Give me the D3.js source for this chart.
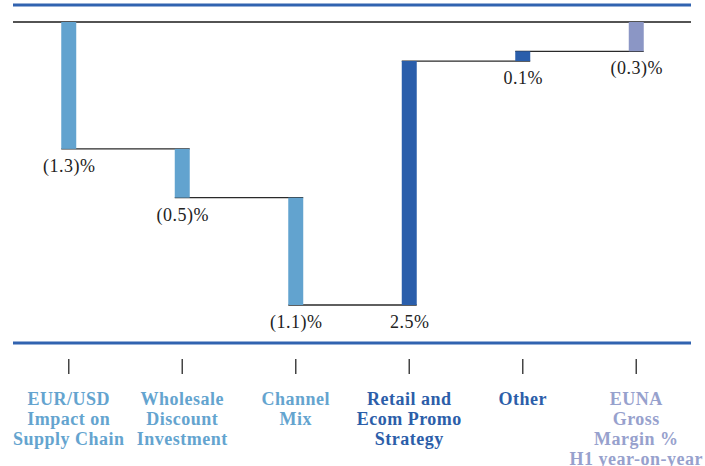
<!DOCTYPE html>
<html>
<head>
<meta charset="utf-8">
<script src="https://cdn.jsdelivr.net/npm/d3@7"></script>
<style>
  html, body { margin: 0; padding: 0; background: #fff; }
  svg { display: block; }
</style>
</head>
<body>
<svg id="chart" width="705" height="466"></svg>
<script>
// Gross margin bridge, H1 year-on-year (percentage points)
const categories = [
  ["EUR/USD", "Impact on", "Supply Chain"],
  ["Wholesale", "Discount", "Investment"],
  ["Channel", "Mix"],
  ["Retail and", "Ecom Promo", "Strategy"],
  ["Other"],
  ["EUNA", "Gross", "Margin %", "H1 year-on-year"]
];
const steps = [-1.3, -0.5, -1.1, 2.5, 0.1];   // bridge movements
const total = -0.3;                            // resulting change
const valueLabels = ["(1.3)%", "(0.5)%", "(1.1)%", "2.5%", "0.1%", "(0.3)%"];
const kinds = ["neg", "neg", "neg", "pos", "pos", "total"];

const barColor = { neg: "#62a3cf", pos: "#2a5eab", total: "#8b96c5" };
const textColor = { neg: "#64a4cf", pos: "#2c5ea9", total: "#97a1cd" };
const serif = "Liberation Serif";

// Build start/end of each bar
const bars = [];
let run = 0;
steps.forEach((v, i) => {
  bars.push({ i, start: run, end: run + v, kind: kinds[i], label: valueLabels[i] });
  run += v;
});
bars.push({ i: steps.length, start: 0, end: total, kind: kinds[steps.length], label: valueLabels[steps.length] });

const svg = d3.select("#chart");

const x = d3.scaleBand()
  .domain(d3.range(categories.length))
  .range([12, 693])
  .paddingInner(0.868)
  .paddingOuter(0.434);

const y = d3.scaleLinear()
  .domain([0, -2.9])
  .range([22, 305]);

const left = 13, right = 691;

// top rule
svg.append("line")
  .attr("x1", left).attr("x2", right)
  .attr("y1", 5).attr("y2", 5)
  .attr("stroke", "#3163b0").attr("stroke-width", 3);

// zero line
svg.append("line")
  .attr("x1", left).attr("x2", right)
  .attr("y1", y(0)).attr("y2", y(0))
  .attr("stroke", "#1a1a1a").attr("stroke-width", 1.5);

// connectors: from left edge of a bar to right edge of the next one
bars.slice(0, -1).forEach(b => {
  svg.append("line")
    .attr("x1", x(b.i)).attr("x2", x(b.i + 1) + x.bandwidth())
    .attr("y1", y(b.end)).attr("y2", y(b.end))
    .attr("stroke", "#2a2a2a").attr("stroke-width", 1.3);
});

// bars
svg.append("g").selectAll("rect")
  .data(bars)
  .join("rect")
  .attr("x", d => x(d.i))
  .attr("width", x.bandwidth())
  .attr("y", d => y(Math.max(d.start, d.end)))
  .attr("height", d => Math.abs(y(d.end) - y(d.start)))
  .attr("fill", d => barColor[d.kind]);

// value labels below the lower end of each bar
svg.append("g").selectAll("text")
  .data(bars)
  .join("text")
  .attr("x", d => x(d.i) + x.bandwidth() / 2 + 0.5)
  .attr("y", d => y(Math.min(d.start, d.end)) + 23)
  .attr("text-anchor", "middle")
  .style("font-family", serif)
  .style("font-size", "18px")
  .style("letter-spacing", "0.5px")
  .attr("fill", "#222")
  .text(d => d.label);

// bottom rule with axis ticks
const axisY = 343;
svg.append("line")
  .attr("x1", left).attr("x2", right)
  .attr("y1", axisY).attr("y2", axisY)
  .attr("stroke", "#3163b0").attr("stroke-width", 3);

const axis = d3.axisBottom(x).tickSize(15).tickFormat("");
const ag = svg.append("g")
  .attr("transform", "translate(0,359)")
  .call(axis);
ag.select(".domain").remove();
ag.selectAll(".tick line").attr("stroke", "#444").attr("stroke-width", 1.5);

// category labels
const lab = svg.append("g").selectAll("text")
  .data(categories)
  .join("text")
  .attr("x", (d, i) => x(i) + x.bandwidth() / 2)
  .attr("y", 405)
  .attr("text-anchor", "middle")
  .style("font-family", serif)
  .style("font-weight", "bold")
  .style("font-size", "18px")
  .style("letter-spacing", "0.5px")
  .attr("fill", (d, i) => textColor[kinds[i]]);

lab.selectAll("tspan")
  .data(d => d)
  .join("tspan")
  .attr("x", function () { return d3.select(this.parentNode).attr("x"); })
  .attr("dy", (d, j) => j === 0 ? 0 : 20)
  .text(d => d);
</script>
</body>
</html>
